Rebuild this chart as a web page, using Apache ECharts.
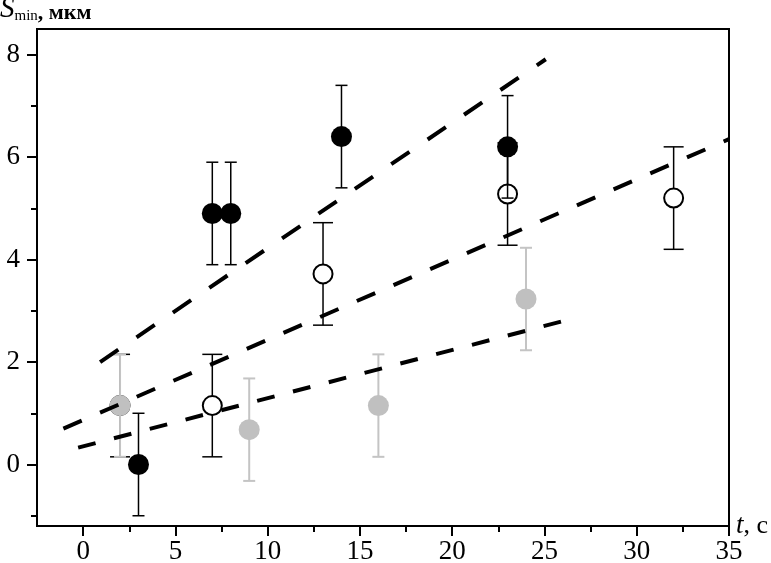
<!DOCTYPE html>
<html lang="ru" style="height: 100%">
<head>
<meta charset="utf-8">
<title>S min vs t</title>
</head>
<body style="height: 100%; margin: 0; background: #fff">
<div id="container" style="width: 771px; height: 563px"></div>

<script type="text/javascript" src="https://cdn.jsdelivr.net/npm/echarts@6/dist/echarts.min.js"></script>

<script type="text/javascript">
// measured points (t, s), error is +/- 1 mkm for every point
var blackT = [3, 7, 8, 14, 23];
var blackS = [0, 4.9, 4.9, 6.4, 6.2];
var blackErr = [1, 1, 1, 1, 1];

var openT = [2, 7, 13, 23, 32];
var openS = [1.15, 1.15, 3.72, 5.28, 5.2];
var openErr = [1, 1, 1, 1, 1];

var grayT = [2, 9, 16, 24];
var grayS = [1.15, 0.68, 1.15, 3.23];
var grayErr = [1, 1, 1, 1];

// dashed fit lines: [t, s] of both ends
var fitTop = [[0.92, 2.0], [25.07, 7.91]];
var fitMid = [[-1.07, 0.70], [35, 6.35]];
var fitLow = [[-0.27, 0.33], [26.33, 2.83]];

var xMajor = [0, 5, 10, 15, 20, 25, 30, 35];
var xMinor = [2.5, 7.5, 12.5, 17.5, 22.5, 27.5, 32.5];
var yMajor = [0, 2, 4, 6, 8];
var yMinor = [-1, 1, 3, 5, 7];

var serif = '"Liberation Serif", "DejaVu Serif", serif';

function points(t, s) {
    return t.map(function (v, i) { return [v, s[i]]; });
}
function bars(t, s, e) {
    return t.map(function (v, i) { return [v, s[i] - e[i], s[i] + e[i]]; });
}
function errorBars(capHalf, color, width) {
    return function (params, api) {
        var x = api.value(0);
        var lo = api.coord([x, api.value(1)]);
        var hi = api.coord([x, api.value(2)]);
        var st = {stroke: color, lineWidth: width};
        return {
            type: 'group',
            children: [
                {type: 'line', shape: {x1: hi[0], y1: hi[1], x2: lo[0], y2: lo[1]}, style: st},
                {type: 'line', shape: {x1: hi[0] - capHalf, y1: hi[1], x2: hi[0] + capHalf, y2: hi[1]}, style: st},
                {type: 'line', shape: {x1: lo[0] - capHalf, y1: lo[1], x2: lo[0] + capHalf, y2: lo[1]}, style: st}
            ]
        };
    };
}

var dom = document.getElementById('container');
var myChart = echarts.init(dom, null, {renderer: 'canvas'});

option = {
    animation: false,
    backgroundColor: '#fff',
    grid: {
        left: 37, right: 42, top: 29, bottom: 37,
        outerBoundsMode: 'none', containLabel: false,
        show: true, borderColor: '#000', borderWidth: 2
    },
    xAxis: [
        {
            type: 'value', min: -2.5, max: 35,
            name: '{t|t}{u|, с}', nameLocation: 'end', nameGap: 7,
            nameMoveOverlap: false,
            nameTextStyle: {
                rich: {
                    t: {fontFamily: serif, fontStyle: 'italic', fontSize: 27, color: '#000'},
                    u: {fontFamily: serif, fontSize: 26, color: '#000'}
                }
            },
            axisLine: {show: true, onZero: false, lineStyle: {color: '#000', width: 2}},
            axisTick: {show: true, customValues: xMajor, length: 10, lineStyle: {color: '#000', width: 2}},
            axisLabel: {customValues: xMajor, margin: 12, color: '#000', fontFamily: serif, fontSize: 27},
            splitLine: {show: false}
        },
        {
            type: 'value', min: -2.5, max: 35, position: 'bottom',
            axisLine: {show: false, onZero: false},
            axisTick: {show: true, customValues: xMinor, length: 6, lineStyle: {color: '#000', width: 2}},
            axisLabel: {show: false},
            splitLine: {show: false}
        }
    ],
    yAxis: [
        {
            type: 'value', min: -1.2, max: 8.5,
            axisLine: {show: true, onZero: false, lineStyle: {color: '#000', width: 2}},
            axisTick: {show: true, customValues: yMajor, length: 10, lineStyle: {color: '#000', width: 2}},
            axisLabel: {customValues: yMajor, margin: 17, color: '#000', fontFamily: serif, fontSize: 27},
            splitLine: {show: false}
        },
        {
            type: 'value', min: -1.2, max: 8.5, position: 'left',
            axisLine: {show: false, onZero: false},
            axisTick: {show: true, customValues: yMinor, length: 6, lineStyle: {color: '#000', width: 2}},
            axisLabel: {show: false},
            splitLine: {show: false}
        }
    ],
    graphic: [
        {
            type: 'text', left: 0, top: -5,
            style: {
                text: '{s|S}{m|min}{u|, мкм}',
                rich: {
                    s: {fontFamily: serif, fontStyle: 'italic', fontSize: 29, fill: '#000', verticalAlign: 'bottom'},
                    m: {fontFamily: serif, fontSize: 15, fill: '#000', verticalAlign: 'bottom'},
                    u: {fontFamily: serif, fontSize: 22, fontWeight: 'bold', fill: '#000', verticalAlign: 'bottom'}
                }
            }
        }
    ],
    series: [
        {
            type: 'custom', name: 'openErr', z: 1,
            renderItem: errorBars(10, '#000', 1.5),
            data: bars(openT, openS, openErr)
        },
        {
            type: 'scatter', name: 'open', z: 2,
            symbol: 'circle', symbolSize: 19,
            itemStyle: {color: '#fff', borderColor: '#000', borderWidth: 2, opacity: 1},
            data: points(openT, openS)
        },
        {
            type: 'custom', name: 'grayErr', z: 3,
            renderItem: errorBars(6, '#c4c4c4', 2),
            data: bars(grayT, grayS, grayErr)
        },
        {
            type: 'scatter', name: 'gray', z: 4,
            symbol: 'circle', symbolSize: 21,
            itemStyle: {color: '#c0c0c0', opacity: 1},
            data: points(grayT, grayS)
        },
        {
            type: 'line', name: 'fitLow', z: 5, symbol: 'none',
            lineStyle: {color: '#000', width: 4, type: [18, 19]},
            data: fitLow
        },
        {
            type: 'line', name: 'fitMid', z: 5, symbol: 'none',
            lineStyle: {color: '#000', width: 4, type: [20, 20]},
            data: fitMid
        },
        {
            type: 'line', name: 'fitTop', z: 5, symbol: 'none',
            lineStyle: {color: '#000', width: 4, type: [22, 22]},
            data: fitTop
        },
        {
            type: 'custom', name: 'blackErr', z: 6,
            renderItem: errorBars(6, '#000', 1.5),
            data: bars(blackT, blackS, blackErr)
        },
        {
            type: 'scatter', name: 'black', z: 7,
            symbol: 'circle', symbolSize: 21,
            itemStyle: {color: '#000', opacity: 1},
            data: points(blackT, blackS)
        }
    ]
};

if (option && typeof option === 'object') {
    myChart.setOption(option);
}

window.addEventListener('resize', myChart.resize);
</script>
</body>
</html>
